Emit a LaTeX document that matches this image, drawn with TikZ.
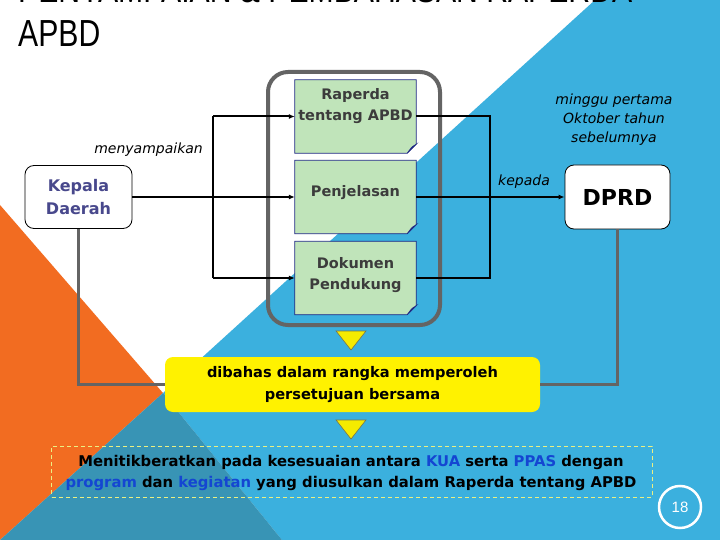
\documentclass[tikz,border=0pt]{standalone}
\usepackage{fontspec}
\setmainfont{DejaVu Sans}
\newfontfamily\titlefont[FakeStretch=0.8]{Liberation Sans}
\newfontfamily\numfont{Liberation Sans}
\usetikzlibrary{arrows.meta}

\definecolor{slideblue}{RGB}{59,176,222}
\definecolor{slideteal}{RGB}{56,148,181}
\definecolor{slideorange}{RGB}{242,108,33}
\definecolor{docgreen}{RGB}{192,228,186}
\definecolor{docedge}{RGB}{30,40,130}
\definecolor{doctext}{RGB}{60,60,60}
\definecolor{foldcol}{RGB}{200,210,228}
\definecolor{kdtext}{RGB}{72,72,140}
\definecolor{linegray}{RGB}{100,100,100}
\definecolor{keyblue}{RGB}{20,70,210}
\definecolor{dashyellow}{RGB}{235,240,130}
\definecolor{triyellow}{RGB}{245,235,0}

\tikzset{
  docarea/.style={rectangle,minimum width=121bp,minimum height=73bp,inner sep=0pt},
  docshape/.style={fill=docgreen,draw=docedge,line width=0.8bp},
  doctxt/.style={text=doctext,font=\fontsize{14.5bp}{21bp}\selectfont\bfseries,align=center,inner sep=0pt},
  rbox/.style={rectangle,rounded corners=9bp,draw=black,fill=white,line width=0.8bp,inner sep=0pt},
  ital/.style={font=\fontsize{14bp}{19bp}\selectfont\itshape,align=center,inner sep=0pt},
  bus/.style={line width=2bp,black},
  gline/.style={line width=3bp,linegray},
  tri/.style={fill=triyellow,draw=black!60!yellow,line width=0.6bp},
  key/.style={text=keyblue}
}

\begin{document}
\begin{tikzpicture}
		[x=1bp,y=-1bp,>={Latex[length=6bp,width=5bp]}]
		\useasboundingbox (0,0) rectangle (720,540);
		\clip (0,0) rectangle (720,540);

		% background
		\fill[white] (0,0) rectangle (720,540);
		\fill[slideblue] (595,0) -- (720,0) -- (720,540) -- (282,540) -- (163,393) -- cycle;
		\fill[slideorange] (0,205) -- (163,393) -- (0,540) -- cycle;
		\fill[slideteal] (163,393) -- (282,540) -- (0,540) -- cycle;

		% title
		\node[anchor=base west,inner sep=0pt,font=\titlefont\fontsize{37.7bp}{44bp}\selectfont] (ttl1) at (18,3) {PENYAMPAIAN \& PEMBAHASAN RAPERDA};
		\node[anchor=base west,inner sep=0pt,font=\titlefont\fontsize{37.7bp}{44bp}\selectfont] (ttl2) at (18,47) {APBD};

		% group frame
		\draw[linegray,line width=4bp,rounded corners=20bp] (268,72) rectangle (440,325);

		% documents
		\node[docarea] (rap) at (355.5,116.5) {};
		\node[docarea] (pen) at (355.5,197) {};
		\node[docarea] (dok) at (355.5,278) {};
		\foreach \d in {rap,pen,dok} {
			\filldraw[docshape] (\d.north west) -- (\d.north east) -- ([yshift=9bp]\d.south east)
				-- ([xshift=-9bp]\d.south east) -- (\d.south west) -- cycle;
			\filldraw[fill=foldcol,draw=docedge,line width=0.6bp] ([xshift=-9bp]\d.south east)
				-- ([yshift=9bp]\d.south east) .. controls ([xshift=-4bp,yshift=7bp]\d.south east) .. cycle;
		}
		\node[doctxt] (raptxt) at (355.5,106.5) {Raperda\\tentang APBD};
		\node[doctxt] (pentxt) at (355.5,193) {Penjelasan};
		\node[doctxt] (doktxt) at (355.5,275) {Dokumen\\Pendukung};

		% actors
		\node[rbox,minimum width=107bp,minimum height=63bp,text=kdtext,align=center,
			font=\fontsize{16bp}{23bp}\selectfont\bfseries] (kd) at (78.5,197) {Kepala\\Daerah};
		\node[rbox,minimum width=105bp,minimum height=64bp,
			font=\fontsize{22bp}{26bp}\selectfont\bfseries] (dprd) at (617.5,197) {DPRD};

		% labels
		\node[ital,anchor=base east] (lblsend) at (203,154) {menyampaikan};
		\node[ital] (lbltime) at (614,120) {minggu pertama\\Oktober tahun\\sebelumnya};
		\node[ital,anchor=base] (lblto) at (524,186) {kepada};

		% left bus
		\coordinate (bl) at (213,197);
		\draw[bus,line width=2.6bp] (kd.east) -- (bl);
		\draw[bus] (bl |- rap.west) -- (bl |- dok.west);
		\draw[bus,->] (bl |- rap.west) -- (rap.west);
		\draw[bus,->] (bl) -- (pen.west);
		\draw[bus,->] (bl |- dok.west) -- (dok.west);

		% right bus
		\coordinate (br) at (490,197);
		\draw[bus] (rap.east) -- (br |- rap.east) -- (br |- dok.east) -- (dok.east);
		\draw[bus] (pen.east) -- (br);
		\draw[bus,->] (br) -- (dprd.west);

		% discussion
		\node[rectangle,rounded corners=8bp,fill=yellow,minimum width=375bp,minimum height=55bp,
			align=center,inner sep=0pt,font=\fontsize{14.6bp}{22bp}\selectfont\bfseries] (bahas) at (352.5,384.5)
			{dibahas dalam rangka memperoleh\\persetujuan bersama};
		\draw[gline] (kd.south) |- (bahas.west);
		\draw[gline] (dprd.south) |- (bahas.east);

		\filldraw[tri] (336,331) -- (366,331) -- (351,350) -- cycle;
		\filldraw[tri] (336,420) -- (366,420) -- (351,439) -- cycle;

		% focus
		\node[rectangle,draw=dashyellow,dash pattern=on 4bp off 3bp,line width=1bp,
			minimum width=600bp,minimum height=51bp,inner sep=0pt] (focus) at (352,471.5) {};
		\node[align=center,inner sep=0pt,font=\fontsize{14.8bp}{21bp}\selectfont\bfseries] (focustxt) at (351,472.5)
			{Menitikberatkan pada kesesuaian antara \textcolor{keyblue}{KUA} serta \textcolor{keyblue}{PPAS} dengan\\
			\textcolor{keyblue}{program} dan \textcolor{keyblue}{kegiatan} yang diusulkan dalam Raperda tentang APBD};

		% page number
		\node[circle,draw=white,line width=2.5bp,minimum size=42bp,inner sep=0pt,text=white,
			font=\numfont\fontsize{15bp}{15bp}\selectfont] (pg) at (680,507) {18};

	\end{tikzpicture}
\end{document}
